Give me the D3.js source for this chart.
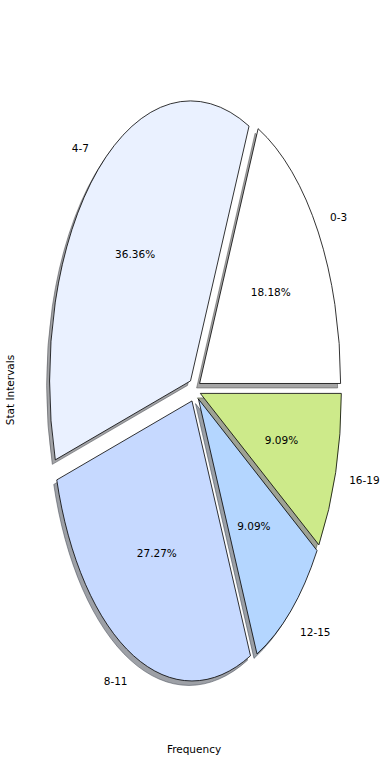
<!DOCTYPE html>
<html>
<head>
<meta charset="utf-8">
<script src="https://cdn.jsdelivr.net/npm/d3@7"></script>
<style>
  body { margin: 0; background: #fff; }
  text { font-family: "DejaVu Sans", sans-serif; font-size: 10.5px; fill: #000; }
</style>
</head>
<body>
<div id="chart"></div>
<script>
var labels = ["0-3", "4-7", "8-11", "12-15", "16-19"];
var counts = [2, 4, 3, 1, 1];
var colors = ["#ffffff", "#eaf1ff", "#c6d9ff", "#b4d6ff", "#cdea8a"];
var explode = 0.043;

var width = 390, height = 780;
var cx = 194.5, cy = 390;

var svg = d3.select("#chart").append("svg")
    .attr("width", width)
    .attr("height", height);

// stretched pie: unit circle mapped to an ellipse
var x = d3.scaleLinear().domain([-1, 1]).range([cx - 141, cx + 141]);
var y = d3.scaleLinear().domain([-1, 1]).range([cy + 280, cy - 280]);
var sx = x(1) - x(0), sy = y(0) - y(1);

// matplotlib style: start at 3 o'clock, counterclockwise
var pie = d3.pie().sort(null)
    .startAngle(Math.PI / 2)
    .endAngle(Math.PI / 2 - 2 * Math.PI);

var arcs = pie(counts);
var arc = d3.arc().innerRadius(0).outerRadius(1);

function mid(d) { return (d.startAngle + d.endAngle) / 2; }
function offX(d, r) { return x(Math.sin(mid(d)) * r); }
function offY(d, r) { return y(Math.cos(mid(d)) * r); }

function shade(c) {
    var k = d3.rgb(c);
    return d3.rgb(k.r * 0.3, k.g * 0.3, k.b * 0.3).toString();
}

// shadows below all wedges
svg.append("g").selectAll("path")
    .data(arcs)
    .enter()
    .append("path")
    .attr("d", arc)
    .attr("transform", function (d) {
        return "translate(" + (offX(d, explode) - 3) + "," + (offY(d, explode) + 4.5) + ") scale(" + sx + "," + sy + ")";
    })
    .attr("vector-effect", "non-scaling-stroke")
    .style("fill", function (d, i) { return shade(colors[i]); })
    .style("fill-opacity", 0.5)
    .style("stroke", function (d, i) { return shade(colors[i]); })
    .style("stroke-opacity", 0.5)
    .style("stroke-width", 1);

svg.append("g").selectAll("path")
    .data(arcs)
    .enter()
    .append("path")
    .attr("d", arc)
    .attr("transform", function (d) {
        return "translate(" + offX(d, explode) + "," + offY(d, explode) + ") scale(" + sx + "," + sy + ")";
    })
    .attr("vector-effect", "non-scaling-stroke")
    .style("fill", function (d, i) { return colors[i]; })
    .style("stroke", "#000")
    .style("stroke-width", 0.8);

// outer labels
svg.append("g").selectAll("text")
    .data(arcs)
    .enter()
    .append("text")
    .attr("x", function (d) { return offX(d, explode + 1.1); })
    .attr("y", function (d) { return offY(d, explode + 1.1); })
    .attr("dy", "0.35em")
    .attr("text-anchor", function (d) { return Math.sin(mid(d)) > 0 ? "start" : "end"; })
    .text(function (d, i) { return labels[i]; });

// percentages
var total = d3.sum(counts);
svg.append("g").selectAll("text")
    .data(arcs)
    .enter()
    .append("text")
    .attr("x", function (d) { return offX(d, explode + 0.6); })
    .attr("y", function (d) { return offY(d, explode + 0.6); })
    .attr("dy", "0.35em")
    .attr("text-anchor", "middle")
    .text(function (d) { return (d.value / total * 100).toFixed(2) + "%"; });

svg.append("text")
    .attr("x", 194)
    .attr("y", 749)
    .attr("dy", "0.35em")
    .attr("text-anchor", "middle")
    .text("Frequency");

svg.append("text")
    .attr("transform", "translate(10," + cy + ") rotate(-90)")
    .attr("dy", "0.35em")
    .attr("text-anchor", "middle")
    .text("Stat Intervals");
</script>
</body>
</html>
